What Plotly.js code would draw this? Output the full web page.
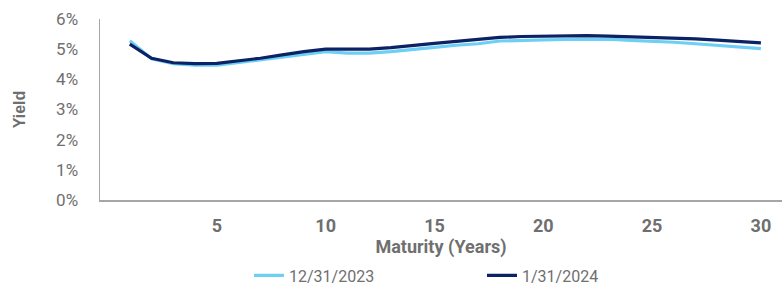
<!DOCTYPE html>
<html>
<head>
<meta charset="utf-8">
<script src="https://cdn.plot.ly/plotly-3.0.1.min.js"></script>
<style>html,body{margin:0;padding:0;background:#fff;}#chart{width:783px;height:290px;}</style>
</head>
<body>
<div id="chart"></div>
<script>
const maturities = [1,2,3,4,5,6,7,8,9,10,11,12,13,14,15,16,17,18,19,20,21,22,23,24,25,26,27,28,29,30];
const yieldsDec2023 = [5.28,4.68,4.52,4.47,4.47,4.56,4.64,4.73,4.83,4.92,4.87,4.87,4.92,4.98,5.06,5.13,5.18,5.27,5.30,5.31,5.32,5.32,5.33,5.29,5.27,5.23,5.18,5.13,5.07,5.02];
const yieldsJan2024 = [5.17,4.70,4.55,4.52,4.53,4.61,4.70,4.81,4.92,5.00,4.99,5.00,5.05,5.11,5.19,5.26,5.32,5.39,5.42,5.43,5.43,5.45,5.43,5.41,5.39,5.37,5.34,5.30,5.26,5.21];
const seriesNames = ['12/31/2023','1/31/2024'];
const xTicks = [5,10,15,20,25,30];
const yTicks = [0,1,2,3,4,5,6];
const yTickText = ['0%','1%','2%','3%','4%','5%','6%'];

const gray = '#6f6f6f';
const traces = [
  {x: maturities, y: yieldsDec2023, name: seriesNames[0], type: 'scatter', mode: 'lines',
   line: {color: '#6ECFF6', width: 3.2}},
  {x: maturities, y: yieldsJan2024, name: seriesNames[1], type: 'scatter', mode: 'lines',
   line: {color: '#0B2265', width: 3.2}}
];
const layout = {
  width: 783, height: 290,
  margin: {l: 100, r: 1, t: 19, b: 90},
  paper_bgcolor: '#fff', plot_bgcolor: '#fff',
  showlegend: true,
  legend: {orientation: 'h', xref: 'container', yref: 'container',
           x: 0.318, xanchor: 'left', y: 0.05, yanchor: 'middle',
           font: {family: 'Roboto, Arial, sans-serif', size: 16, color: gray},
           entrywidth: 188, itemwidth: 30, tracegroupgap: 0},
  xaxis: {range: [-0.37, 30.97], tickvals: xTicks, ticktext: xTicks.map(String),
          showgrid: false, zeroline: false, showline: true, linecolor: '#a6a6a6', linewidth: 1.5,
          ticks: '', ticklabelstandoff: 9,
          tickfont: {family: 'Roboto, Arial, sans-serif', size: 18, color: gray, weight: 'bold'},
          title: {text: '<b>Maturity (Years)</b>', standoff: 11,
                  font: {family: 'Roboto, Arial, sans-serif', size: 18, color: gray}}},
  yaxis: {range: [0, 6], tickvals: yTicks, ticktext: yTickText,
          showgrid: false, zeroline: false, showline: true, linecolor: '#a6a6a6', linewidth: 1.5,
          ticks: '', ticklabelstandoff: 17,
          tickfont: {family: 'Roboto, Arial, sans-serif', size: 17, color: gray},
          title: {text: '<b>Yield</b>', standoff: 26,
                  font: {family: 'Arial, "Liberation Sans", sans-serif', size: 16, color: gray}}}
};
Plotly.newPlot('chart', traces, layout, {displayModeBar: false, staticPlot: true});
</script>
</body>
</html>
